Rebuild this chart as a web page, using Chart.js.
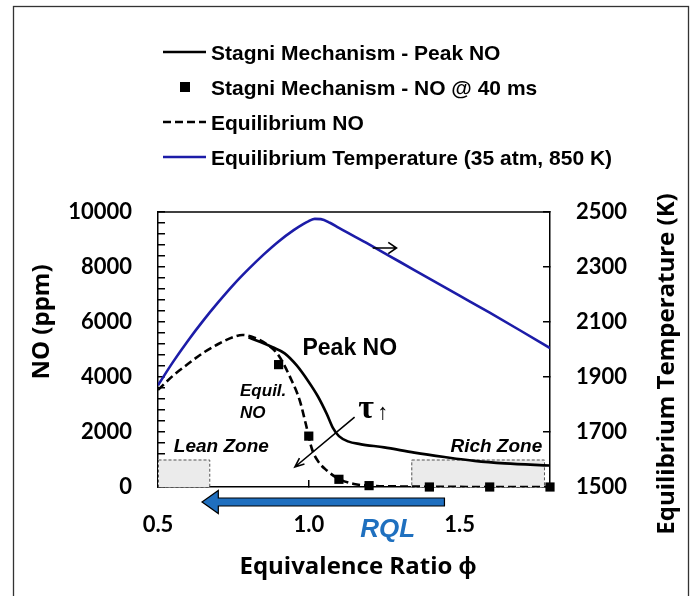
<!DOCTYPE html>
<html>
<head>
<meta charset="utf-8">
<title>NO vs Equivalence Ratio</title>
<script src="https://cdn.jsdelivr.net/npm/chart.js@4.4.1/dist/chart.umd.min.js"></script>
<style>
  html, body { margin: 0; padding: 0; background: #fff; }
  #wrap { position: relative; width: 694px; height: 596px; }
</style>
</head>
<body>
<div id="wrap"><canvas id="no-chart"></canvas></div>
<script>
// Equilibrium temperature (K) vs equivalence ratio
const tempPhi = [0.5, 0.55, 0.6, 0.65, 0.7, 0.75, 0.8, 0.85, 0.9, 0.95, 0.98, 1.0, 1.02, 1.04, 1.07, 1.1, 1.2, 1.3, 1.4, 1.5, 1.6, 1.7, 1.8];
const tempK = [1870, 1955, 2033, 2105, 2172, 2235, 2292, 2345, 2393, 2434, 2455, 2467, 2475, 2474, 2461, 2442, 2382, 2320, 2258, 2196, 2134, 2070, 2005];

// Stagni mechanism peak NO (ppm)
const peakPhi = [0.8, 0.84, 0.88, 0.92, 0.96, 1.0, 1.03, 1.06, 1.08, 1.1, 1.13, 1.17, 1.25, 1.35, 1.45, 1.55, 1.65, 1.8];
const peakNO = [5440, 5270, 5080, 4860, 4420, 3820, 3300, 2650, 2150, 1850, 1660, 1560, 1440, 1250, 1090, 950, 860, 780];

// Equilibrium NO (ppm)
const equilPhi = [0.5, 0.55, 0.6, 0.65, 0.7, 0.75, 0.78, 0.82, 0.86, 0.9, 0.94, 0.97, 0.99, 1.01, 1.03, 1.06, 1.1, 1.15, 1.2, 1.3, 1.4, 1.6, 1.8];
const equilNO = [3530, 4050, 4480, 4880, 5200, 5450, 5530, 5430, 5200, 4780, 3950, 3150, 2300, 1400, 950, 600, 290, 110, 50, 20, 10, 0, 0];

// Stagni mechanism NO after 40 ms (ppm)
const sampledPhi = [0.9, 1.0, 1.1, 1.2, 1.4, 1.6, 1.8];
const sampledNO = [4450, 1850, 280, 50, 0, 0, 0];

const seriesNames = [
  'Stagni Mechanism - Peak NO',
  'Stagni Mechanism - NO @ 40 ms',
  'Equilibrium NO',
  'Equilibrium Temperature (35 atm, 850 K)'
];
const xTicks = [0.5, 1.0, 1.5];
const leanZone = [0.5, 0.67];
const richZone = [1.34, 1.78];
const zoneTop = 1000;

const toPoints = (xs, ys) => xs.map((x, i) => ({ x, y: ys[i] }));

const sansBold = (size, italic) => `${italic ? 'italic ' : ''}bold ${size}px "Liberation Sans", Arial, sans-serif`;
const tickFont = { family: 'Lato', size: 22, weight: 'bold' };

function openArrow(ctx, x0, y0, x1, y1, head, spread) {
  const ang = Math.atan2(y1 - y0, x1 - x0);
  ctx.beginPath();
  ctx.moveTo(x0, y0);
  ctx.lineTo(x1, y1);
  ctx.moveTo(x1 - head * Math.cos(ang - spread), y1 - head * Math.sin(ang - spread));
  ctx.lineTo(x1, y1);
  ctx.lineTo(x1 - head * Math.cos(ang + spread), y1 - head * Math.sin(ang + spread));
  ctx.stroke();
}

const decorations = {
  id: 'decorations',
  beforeDatasetsDraw(chart) {
    const { ctx, scales: { x, y } } = chart;
    ctx.save();
    [leanZone, richZone].forEach(([from, to]) => {
      const x0 = x.getPixelForValue(from), x1 = x.getPixelForValue(to);
      const y0 = y.getPixelForValue(zoneTop), y1 = y.getPixelForValue(0);
      ctx.fillStyle = '#ebebeb';
      ctx.fillRect(x0, y0, x1 - x0, y1 - y0);
      ctx.setLineDash([3, 2]);
      ctx.strokeStyle = '#555';
      ctx.lineWidth = 1;
      ctx.strokeRect(x0 + 0.5, y0 + 0.5, x1 - x0, y1 - y0);
    });
    ctx.restore();
  },
  afterDraw(chart) {
    const { ctx, chartArea: a, scales: { x, y, y2 } } = chart;
    ctx.save();

    // outer frame and top edge of the plot box
    ctx.strokeStyle = '#333';
    ctx.lineWidth = 1.3;
    ctx.strokeRect(13.5, 6.5, 675, 640);
    ctx.strokeStyle = '#000';
    ctx.lineWidth = 1.5;
    ctx.beginPath();
    ctx.moveTo(a.left, a.top);
    ctx.lineTo(a.right, a.top);
    ctx.stroke();

    // legend
    chart.data.datasets.forEach((ds, i) => {
      const yc = 52 + i * 35;
      ctx.strokeStyle = ds.borderColor;
      ctx.fillStyle = '#000';
      if (ds.showLine === false) {
        ctx.fillRect(180, yc - 5, 10, 10);
      } else {
        ctx.lineWidth = ds.borderWidth;
        ctx.setLineDash(ds.borderDash || []);
        ctx.beginPath();
        ctx.moveTo(163, yc);
        ctx.lineTo(206, yc);
        ctx.stroke();
        ctx.setLineDash([]);
      }
      ctx.font = sansBold(21);
      ctx.textAlign = 'left';
      ctx.textBaseline = 'alphabetic';
      ctx.fillText(ds.label, 211, yc + 7.5);
    });

    // axis titles
    ctx.fillStyle = '#000';
    ctx.font = 'bold 24px "Open Sans", sans-serif';
    ctx.textAlign = 'center';
    ctx.textBaseline = 'middle';
    ctx.fillText('Equivalence Ratio \u03D5', 358, 567);
    ctx.save();
    ctx.translate(42, 322);
    ctx.rotate(-Math.PI / 2);
    ctx.fillText('NO (ppm)', 0, 0);
    ctx.restore();
    ctx.save();
    ctx.translate(667, 364);
    ctx.rotate(-Math.PI / 2);
    ctx.fillText('Equilibrium Temperature (K)', 0, 0);
    ctx.restore();

    // curve labels
    ctx.font = sansBold(23);
    ctx.fillText('Peak NO', x.getPixelForValue(1.136), y.getPixelForValue(5018));
    ctx.font = sansBold(17, true);
    ctx.textAlign = 'left';
    ctx.fillText('Equil.', x.getPixelForValue(0.772), y.getPixelForValue(3490));
    ctx.fillText('NO', x.getPixelForValue(0.772), y.getPixelForValue(2690));
    ctx.font = sansBold(19, true);
    ctx.textAlign = 'center';
    ctx.fillText('Lean Zone', x.getPixelForValue(0.71), y.getPixelForValue(1473));
    ctx.fillText('Rich Zone', x.getPixelForValue(1.622), y.getPixelForValue(1473));

    // residence time arrow
    ctx.font = 'bold 34px "Liberation Serif", serif';
    ctx.fillText('\u03C4', x.getPixelForValue(1.19), y.getPixelForValue(2820));
    ctx.font = 'bold 22px "Liberation Sans", sans-serif';
    ctx.fillText('\u2191', x.getPixelForValue(1.245), y.getPixelForValue(2700));
    ctx.strokeStyle = '#000';
    ctx.lineWidth = 1.6;
    openArrow(ctx, x.getPixelForValue(1.152), y.getPixelForValue(2545),
      x.getPixelForValue(0.954), y.getPixelForValue(727), 10, 0.4);

    // small arrow pointing at the temperature axis
    const ta = y2.getPixelForValue(2369);
    openArrow(ctx, x.getPixelForValue(1.212), ta, x.getPixelForValue(1.291), ta, 10, 0.6);

    // RQL direction arrow below the axis
    const yb = a.bottom + 15;
    const tip = x.getPixelForValue(0.646), back = x.getPixelForValue(0.70), tail = x.getPixelForValue(1.45);
    ctx.beginPath();
    ctx.moveTo(tail, yb - 4);
    ctx.lineTo(back, yb - 4);
    ctx.lineTo(back, yb - 11.5);
    ctx.lineTo(tip, yb);
    ctx.lineTo(back, yb + 11.5);
    ctx.lineTo(back, yb + 4);
    ctx.lineTo(tail, yb + 4);
    ctx.closePath();
    ctx.fillStyle = '#1f6fbf';
    ctx.fill();
    ctx.lineWidth = 1.2;
    ctx.stroke();
    ctx.fillStyle = '#1f70bf';
    ctx.font = sansBold(26, true);
    ctx.textBaseline = 'middle';
    ctx.fillText('RQL', x.getPixelForValue(1.262), a.bottom + 43);

    ctx.restore();
  }
};

const ctx = document.getElementById('no-chart').getContext('2d');
new Chart(ctx, {
  type: 'line',
  data: {
    datasets: [
      {
        label: seriesNames[0],
        data: toPoints(peakPhi, peakNO),
        borderColor: '#000',
        borderWidth: 2.6,
        pointRadius: 0,
        cubicInterpolationMode: 'monotone',
        yAxisID: 'y'
      },
      {
        label: seriesNames[1],
        data: toPoints(sampledPhi, sampledNO),
        showLine: false,
        borderColor: '#000',
        backgroundColor: '#000',
        pointStyle: 'rect',
        pointRadius: 6.5,
        pointBorderWidth: 0,
        clip: false,
        yAxisID: 'y'
      },
      {
        label: seriesNames[2],
        data: toPoints(equilPhi, equilNO),
        borderColor: '#000',
        borderWidth: 2.6,
        borderDash: [8, 4],
        pointRadius: 0,
        cubicInterpolationMode: 'monotone',
        yAxisID: 'y'
      },
      {
        label: seriesNames[3],
        data: toPoints(tempPhi, tempK),
        borderColor: '#1c1ca8',
        borderWidth: 2.6,
        pointRadius: 0,
        cubicInterpolationMode: 'monotone',
        yAxisID: 'y2'
      }
    ]
  },
  options: {
    responsive: true,
    maintainAspectRatio: false,
    animation: false,
    events: [],
    layout: { padding: { top: 212, left: 0, right: 0, bottom: 0 } },
    plugins: { legend: { display: false }, tooltip: { enabled: false } },
    scales: {
      x: {
        type: 'linear',
        min: 0.5,
        max: 1.8,
        afterBuildTicks: s => { s.ticks = xTicks.map(v => ({ value: v })); },
        afterFit: s => { s.height = 109; },
        grid: { drawOnChartArea: false, tickLength: -7, color: '#000', lineWidth: 1.5 },
        border: { color: '#000', width: 1.5 },
        ticks: { font: tickFont, color: '#000', padding: 32, maxRotation: 0, callback: v => v.toFixed(1) }
      },
      y: {
        position: 'left',
        min: 0,
        max: 10000,
        afterFit: s => { s.width = 158; },
        grid: { drawOnChartArea: false, tickLength: -7, color: '#000', lineWidth: 1.5 },
        border: { color: '#000', width: 1.5 },
        ticks: {
          stepSize: 400,
          autoSkip: false,
          font: tickFont,
          color: '#000',
          padding: 33,
          callback: v => (Math.abs(v % 2000) < 1e-6 ? String(v) : '')
        }
      },
      y2: {
        position: 'right',
        min: 1500,
        max: 2500,
        afterFit: s => { s.width = 144; },
        grid: { drawOnChartArea: false, tickLength: -7, color: '#000', lineWidth: 1.5 },
        border: { color: '#000', width: 1.5 },
        ticks: { stepSize: 200, font: tickFont, color: '#000', padding: 33, callback: v => String(v) }
      }
    }
  },
  plugins: [decorations]
});
</script>
</body>
</html>
